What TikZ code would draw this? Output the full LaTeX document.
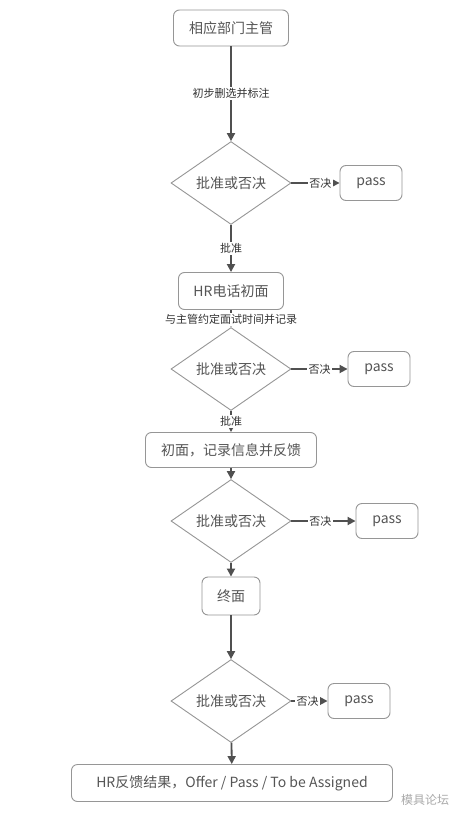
\documentclass[tikz,border=0pt]{standalone}
\usepackage{fontspec}
\setmainfont{Noto Sans CJK SC}
\usepackage{xcolor}
\usepackage{tikz}
\usetikzlibrary{shapes.geometric, arrows.meta, positioning}
\definecolor{boxgray}{RGB}{150,150,150}
\definecolor{textgray}{RGB}{85,85,85}
\definecolor{linegray}{RGB}{80,80,80}
\definecolor{labelgray}{RGB}{50,50,50}
\definecolor{markgray}{RGB}{170,170,170}
\tikzset{
  block/.style={rectangle, rounded corners=6pt, draw=boxgray, line width=0.9pt,
    text=textgray, inner sep=0pt, align=center,
    font=\fontsize{14pt}{16pt}\selectfont},
  passblock/.style={block, minimum width=62pt, minimum height=35pt},
  decision/.style={diamond, draw=boxgray, line width=0.9pt, text=textgray,
    inner sep=0pt, minimum width=120pt, minimum height=65pt,
    font=\fontsize{14pt}{16pt}\selectfont},
  arrow/.style={-{Triangle[length=8pt, width=8pt]}, line width=1.8pt, color=linegray},
  steplabel/.style={fill=white, inner sep=1.5pt, text=labelgray,
    font=\fontsize{11pt}{13pt}\selectfont},
}
\begin{document}
\begin{tikzpicture}[x=1pt, y=-1pt]
  \useasboundingbox[fill=white] (0,0) rectangle (458,821);

  % main column
  \node[block, minimum width=115pt, minimum height=36pt] (head) at (231,28) {相应部门主管};
  \node[decision] (check1) at (231,183) {批准或否决};
  \node[block, minimum width=105pt, minimum height=37pt] (phone) at (231,291) {HR电话初面};
  \node[decision] (check2) at (231,369) {批准或否决};
  \node[block, minimum width=171pt, minimum height=35pt] (first) at (231,450) {初面，记录信息并反馈};
  \node[decision] (check3) at (231,521) {批准或否决};
  \node[block, minimum width=58pt, minimum height=38pt] (final) at (231,596) {终面};
  \node[decision] (check4) at (231,701) {批准或否决};
  \node[block, minimum width=321pt, minimum height=37pt] (result) at (232,783)
    {HR反馈结果，Offer / Pass / To be Assigned};

  % rejected branches
  \node[passblock] (pass1) at (371,183) {pass};
  \node[passblock] (pass2) at (379,369) {pass};
  \node[passblock] (pass3) at (387,521) {pass};
  \node[passblock] (pass4) at (359,701) {pass};

  \draw[arrow] (head) -- node[steplabel] {初步删选并标注} (check1);
  \draw[arrow] (check1) -- node[steplabel] {批准} (phone);
  \draw[arrow] (phone) -- node[steplabel, pos=0.55] {与主管约定面试时间并记录} (check2);
  \draw[arrow] (check2) -- node[steplabel] {批准} (first);
  \draw[arrow] (first) -- (check3);
  \draw[arrow] (check3) -- (final);
  \draw[arrow] (final) -- (check4);
  \draw[arrow] (check4) -- (result);

  \draw[arrow] (check1) -- node[steplabel, pos=0.6] {否决} (pass1);
  \draw[arrow] (check2) -- node[steplabel, pos=0.5] {否决} (pass2);
  \draw[arrow] (check3) -- node[steplabel, pos=0.45] {否决} (pass3);
  \draw[arrow] (check4) -- node[steplabel, pos=0.45] {否决} (pass4);

  \node[text=markgray, font=\fontsize{12pt}{14pt}\selectfont] (mark) at (425,800) {模具论坛};
\end{tikzpicture}
\end{document}
